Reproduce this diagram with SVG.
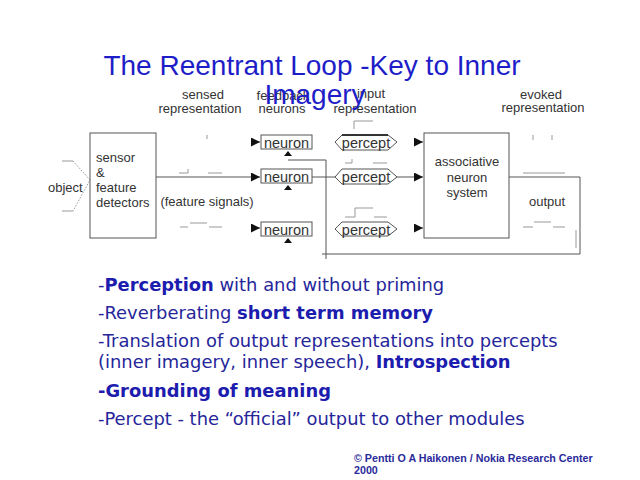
<svg xmlns="http://www.w3.org/2000/svg" width="640" height="480" viewBox="0 0 640 480">
<defs>
<style>
.lbl{font-family:"Liberation Sans",Arial,sans-serif;font-size:13px;fill:#333}
.big{font-family:"Liberation Sans",Arial,sans-serif;font-size:14.5px;fill:#333}
.ln{stroke:#555;stroke-width:1;fill:none}
.box{stroke:#555;stroke-width:1;fill:#fff}
.wv{stroke:#999;stroke-width:1;fill:none}
.title{font-family:"Liberation Sans",Arial,sans-serif;font-size:28px;fill:#1e1ec8}
.bul{font-family:"DejaVu Sans",Verdana,sans-serif;font-size:17.9px;fill:#26269a}
.b{font-weight:bold;fill:#1c1cae}
.foot{font-family:"Liberation Sans",Arial,sans-serif;font-size:10.7px;font-weight:bold;fill:#2a2a9a}
</style>
<marker id="ah" markerWidth="10" markerHeight="10" refX="9" refY="4.5" orient="auto" markerUnits="userSpaceOnUse">
<path d="M0,0 L9,4.5 L0,9 Z" fill="#111"/>
</marker>
</defs>
<rect width="640" height="480" fill="#fff"/>

<g id="labels">
<text class="lbl" x="203" y="99" text-anchor="middle">sensed</text>
<text class="lbl" x="200" y="113" text-anchor="middle">representation</text>
<text class="lbl" x="283" y="100" text-anchor="middle">feedback</text>
<text class="lbl" x="282" y="113" text-anchor="middle">neurons</text>
<text class="lbl" x="371" y="98" text-anchor="middle">input</text>
<text class="lbl" x="375" y="113" text-anchor="middle">representation</text>
<text class="lbl" x="541" y="99" text-anchor="middle">evoked</text>
<text class="lbl" x="543" y="112" text-anchor="middle">representation</text>
</g>

<g id="title">
<text class="title" x="312" y="75" text-anchor="middle">The Reentrant Loop -Key to Inner</text>
<text class="title" x="315" y="104" text-anchor="middle">Imagery</text>
</g>

<g id="waveforms">
<path class="wv" d="M62,161 H73 M62,211 H73"/>
<path class="wv" d="M73,161 L90,180 L73,211" stroke-dasharray="1.5,1.5"/>
<path class="wv" d="M207,135 V139"/>
<path class="wv" d="M179,173 H188 V169 M208,173 H222"/>
<path class="wv" d="M180,227 H188 M190,223 H207 M209,227 H222"/>
<path class="wv" d="M354,129 V121 H373"/>
<path class="wv" d="M345,163 H352 V159 M373,163 H387"/>
<path class="wv" d="M345,217 H355 V208 H373 M374,217 H387"/>
<path class="wv" d="M533,135 V140 M552,135 V140"/>
<path class="wv" d="M523,173 H565"/>
<path class="wv" d="M523,227 H533 M534,222 H551 M553,227 H565"/>
<path class="wv" d="M576,230 V248"/>
</g>

<g id="connectors">
<path class="ln" d="M156,177 H260" marker-end="url(#ah)"/>
<path class="ln" d="M251,142 H260" marker-end="url(#ah)"/>
<path class="ln" d="M251,228 H260" marker-end="url(#ah)"/>
<path class="ln" d="M312,177 H336"/>
<path class="ln" d="M396,177 H423" marker-end="url(#ah)"/>
<path class="ln" d="M414,142 H423" marker-end="url(#ah)"/>
<path class="ln" d="M414,228 H423" marker-end="url(#ah)"/>
<path class="ln" d="M288,160 H326 V259"/>
<path class="ln" d="M322,254 H580 V177 H509"/>
</g>

<g id="object">
<text class="lbl" x="48" y="192">object</text>
</g>

<g id="sensor">
<rect class="box" x="90" y="133" width="66" height="105"/>
<text class="lbl" x="96" y="162">sensor</text>
<text class="lbl" x="96" y="177">&amp;</text>
<text class="lbl" x="96" y="192">feature</text>
<text class="lbl" x="96" y="207">detectors</text>
</g>

<g id="feature-signals">
<text class="lbl" x="207" y="206" text-anchor="middle">(feature signals)</text>
</g>

<g id="neuron1">
<rect class="box" x="261" y="135" width="51" height="14"/>
<text class="big" x="286.5" y="148" text-anchor="middle">neuron</text>
<path d="M284,156 L288,151 L292,156 Z" fill="#111"/>
</g>
<g id="neuron2">
<rect class="box" x="261" y="169" width="51" height="14"/>
<text class="big" x="286.5" y="182" text-anchor="middle">neuron</text>
<path d="M284,190 L288,185 L292,190 Z" fill="#111"/>
</g>
<g id="neuron3">
<rect class="box" x="261" y="222" width="51" height="14"/>
<text class="big" x="286.5" y="235" text-anchor="middle">neuron</text>
<path d="M284,243 L288,238 L292,243 Z" fill="#111"/>
</g>

<g id="percept1">
<path class="box" d="M335,142 L342,135 H388 L397,142 L388,150 H342 Z"/>
<path d="M342,135 H388" stroke="#333" stroke-width="1.8"/>
<text class="big" x="366" y="148" text-anchor="middle">percept</text>
</g>
<g id="percept2">
<path class="box" d="M335,177 L342,169 H388 L397,177 L388,184 H342 Z"/>
<text class="big" x="366" y="182" text-anchor="middle">percept</text>
</g>
<g id="percept3">
<path class="box" d="M335,229 L342,222 H388 L397,229 L388,236 H342 Z"/>
<text class="big" x="366" y="235" text-anchor="middle">percept</text>
</g>

<g id="associative">
<rect class="box" x="424" y="133" width="85" height="105"/>
<text class="lbl" x="467" y="166" text-anchor="middle">associative</text>
<text class="lbl" x="467" y="182" text-anchor="middle">neuron</text>
<text class="lbl" x="467" y="197" text-anchor="middle">system</text>
</g>

<g id="output">
<text class="lbl" x="547" y="206" text-anchor="middle">output</text>
</g>

<g id="bullets">
<text class="bul" x="98" y="291">-<tspan class="b">Perception</tspan> with and without priming</text>
<text class="bul" x="98" y="319">-Reverberating <tspan class="b">short term memory</tspan></text>
<text class="bul" x="98" y="347">-Translation of output representations into percepts</text>
<text class="bul" x="98" y="368">(inner imagery, inner speech), <tspan class="b">Introspection</tspan></text>
<text class="bul b" x="98" y="397">-Grounding of meaning</text>
<text class="bul" x="98" y="425">-Percept - the “official” output to other modules</text>
</g>

<g id="footer">
<text class="foot" x="354" y="462">© Pentti O A Haikonen / Nokia Research Center</text>
<text class="foot" x="354" y="474">2000</text>
</g>
</svg>
